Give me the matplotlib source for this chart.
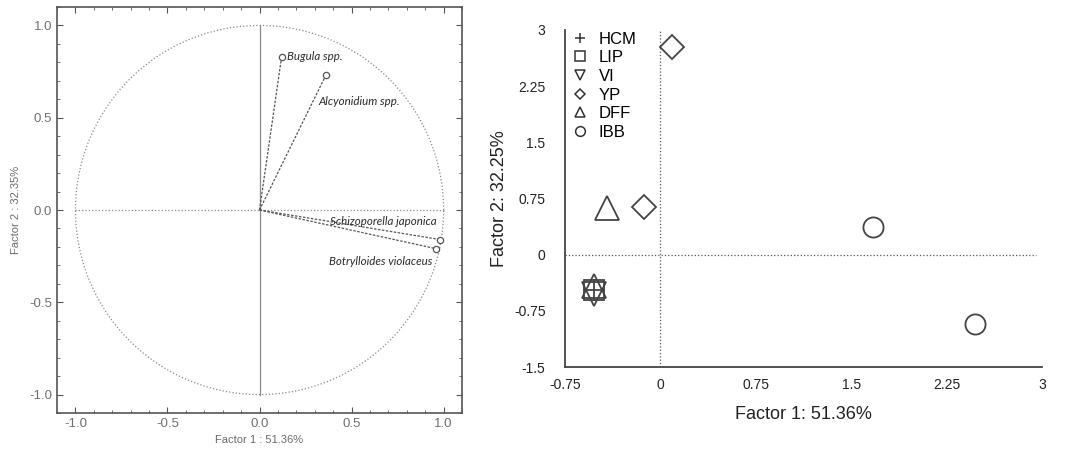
import numpy as np
import matplotlib
matplotlib.use("Agg")
import matplotlib.pyplot as plt
from matplotlib.lines import Line2D
from matplotlib.ticker import MultipleLocator

# Loadings (left panel)
species = ["Bugula spp.", "Alcyonidium spp.", "Schizoporella japonica", "Botrylloides violaceus"]
load_x = [0.12, 0.36, 0.98, 0.96]
load_y = [0.83, 0.73, -0.16, -0.21]

# Scores (right panel)
groups = ["HCM", "LIP", "VI", "YP", "DFF", "IBB"]
group_markers = ["+", "s", "v", "D", "^", "o"]
group_sizes = [16, 14, 17, 12, 17, 14.5]
score_x = {
    "HCM": [-0.52], "LIP": [-0.52], "VI": [-0.52],
    "YP": [0.09, -0.13], "DFF": [-0.42, -0.52], "IBB": [1.67, 2.47],
}
score_y = {
    "HCM": [-0.47], "LIP": [-0.47], "VI": [-0.52],
    "YP": [2.77, 0.64], "DFF": [0.62, -0.42], "IBB": [0.37, -0.92],
}

plt.rcParams["font.family"] = ["Liberation Sans", "DejaVu Sans"]
fig = plt.figure(figsize=(10.7, 4.55), dpi=100)

# ---- left: correlation circle
grey = "#6a6a6a"
ax1 = fig.add_axes([0.0533, 0.0923, 0.3785, 0.8923])
t = np.linspace(0, 2 * np.pi, 400)
ax1.plot(np.cos(t), np.sin(t), ls=":", color="#8a8a8a", lw=0.9)
ax1.plot([-1, 1], [0, 0], ls=":", color="#8a8a8a", lw=0.9)
ax1.plot([0, 0], [-1, 1], ls="-", color="#8a8a8a", lw=0.9)
for name, x, y in zip(species, load_x, load_y):
    ax1.plot([0, x], [0, y], ls="--", color="#555555", lw=0.9, dashes=(2, 1.2))
    ax1.plot(x, y, "o", ms=4.5, mfc="white", mec="#555555", mew=0.9)
lab = dict(style="italic", fontsize=8.3, va="center", color="#2a2a2a",
           family=["Lato", "DejaVu Sans"])
ax1.text(load_x[0] + 0.03, load_y[0], species[0], ha="left", **lab)
ax1.text(load_x[1] - 0.04, load_y[1] - 0.14, species[1], ha="left", **lab)
ax1.text(load_x[2] - 0.02, load_y[2] + 0.1, species[2], ha="right", **lab)
ax1.text(load_x[3] - 0.02, load_y[3] - 0.07, species[3], ha="right", **lab)
ax1.set_xlim(-1.1, 1.1)
ax1.set_ylim(-1.1, 1.1)
ax1.xaxis.set_major_locator(MultipleLocator(0.5))
ax1.yaxis.set_major_locator(MultipleLocator(0.5))
ax1.xaxis.set_minor_locator(MultipleLocator(0.1))
ax1.yaxis.set_minor_locator(MultipleLocator(0.1))
ax1.xaxis.set_major_formatter(lambda v, p: f"{v:.1f}")
ax1.yaxis.set_major_formatter(lambda v, p: f"{v:.1f}")
ax1.tick_params(which="both", direction="in", top=True, right=True,
                color="#555555", labelcolor="#707070", labelsize=9.5)
ax1.tick_params(which="major", length=4)
ax1.tick_params(which="minor", length=2.5)
for s in ax1.spines.values():
    s.set_color("#555555")
    s.set_linewidth(1.2)
ax1.set_xlabel("Factor 1 : 51.36%", color=grey, fontsize=8, labelpad=4)
ax1.set_ylabel("Factor 2 : 32.35%", color=grey, fontsize=8, labelpad=6)

# ---- right: scores
ax2 = fig.add_axes([0.528, 0.1934, 0.4458, 0.7407])
ax2.plot([0, 0], [-1.5, 3], ls=":", color="#555555", lw=0.9)
ax2.plot([-0.75, 2.95], [0, 0], ls=":", color="#555555", lw=0.9)
handles = []
for g, m, ms in zip(groups, group_markers, group_sizes):
    ax2.plot(score_x[g], score_y[g], ls="none", marker=m, ms=ms, mfc="none",
             mec="#444444", mew=1.3)
    hs = 5 if m == "D" else 7
    handles.append(Line2D([], [], ls="none", marker=m, ms=hs, mfc="none",
                          mec="#333333", mew=1.1, label=g))
ax2.legend(handles=handles, loc="upper left", bbox_to_anchor=(-0.01, 1.03),
           frameon=False, fontsize=12, handlelength=1.0, handletextpad=0.6,
           labelspacing=0.22, borderaxespad=0.3)
ax2.set_xlim(-0.75, 3)
ax2.set_ylim(-1.5, 3)
ax2.set_xticks([-0.75, 0, 0.75, 1.5, 2.25, 3])
ax2.set_xticklabels(["-0.75", "0", "0.75", "1.5", "2.25", "3"])
ax2.set_yticks([-1.5, -0.75, 0, 0.75, 1.5, 2.25, 3])
ax2.set_yticklabels(["-1.5", "-0.75", "0", "0.75", "1.5", "2.25", "3"])
ax2.tick_params(length=0, labelsize=10, labelcolor="#222222")
ax2.tick_params(axis="y", pad=14)
ax2.tick_params(axis="x", pad=8)
ax2.spines["top"].set_visible(False)
ax2.spines["right"].set_visible(False)
for s in ("left", "bottom"):
    ax2.spines[s].set_color("#444444")
    ax2.spines[s].set_linewidth(1.3)
ax2.set_xlabel("Factor 1: 51.36%", fontsize=13, color="#222222")
ax2.set_ylabel("Factor 2: 32.25%", fontsize=13, color="#222222")
ax2.xaxis.set_label_coords(0.5, -0.116)
ax2.yaxis.set_label_coords(-0.12, 0.5)

fig.savefig("out.png", dpi=100)
